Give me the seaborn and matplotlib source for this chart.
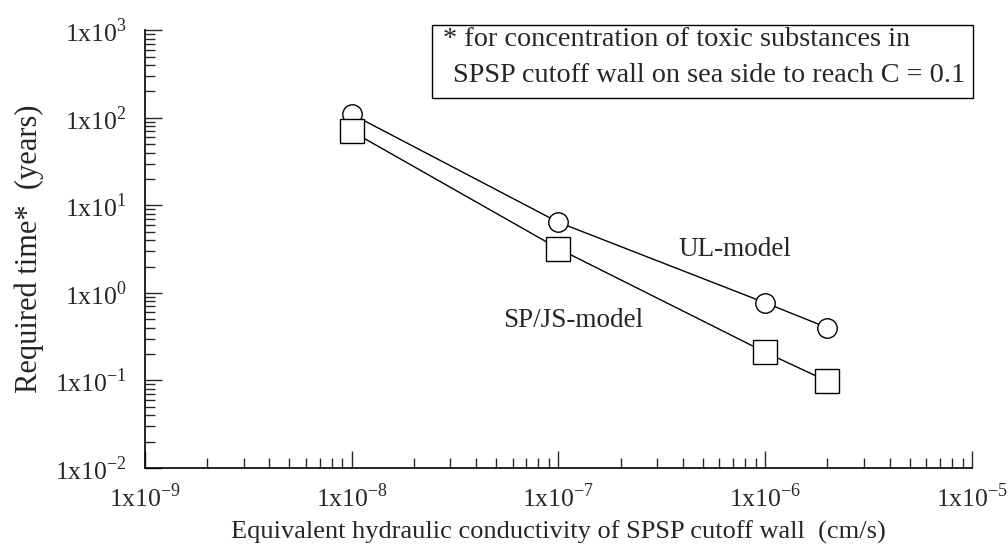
import pandas as pd
import matplotlib.pyplot as plt
import seaborn as sns
from matplotlib.patches import Rectangle
from matplotlib.ticker import LogLocator, FixedLocator, NullFormatter

# values
conductivity = [1e-8, 1e-7, 1e-6, 2e-6]
ul_time = [110, 6.4, 0.77, 0.40]
spjs_time = [70, 3.2, 0.21, 0.098]
x_ticks = [1e-9, 1e-8, 1e-7, 1e-6, 1e-5]
x_labels = ["-9", "-8", "-7", "-6", "-5"]
y_ticks = [1e-2, 1e-1, 1e0, 1e1, 1e2, 1e3]
y_labels = ["-2", "-1", "0", "1", "2", "3"]

df_ul = pd.DataFrame({"k": conductivity, "t": ul_time})
df_sp = pd.DataFrame({"k": conductivity, "t": spjs_time})

sns.set_style("ticks")
plt.rcParams["font.family"] = ["Liberation Serif", "DejaVu Serif"]
plt.rcParams["mathtext.fontset"] = "custom"
plt.rcParams["mathtext.rm"] = "Liberation Serif"

fig = plt.figure(figsize=(10.08, 5.49), dpi=100)
ax = fig.add_axes([0.1438, 0.1475, 0.8205, 0.7975])

sns.lineplot(data=df_ul, x="k", y="t", ax=ax, color="black", lw=1,
             marker="o", markersize=14, markerfacecolor="white",
             markeredgecolor="black", markeredgewidth=1)
sns.lineplot(data=df_sp, x="k", y="t", ax=ax, color="black", lw=1,
             marker="s", markersize=17.5, markerfacecolor="white",
             markeredgecolor="black", markeredgewidth=1)

ax.set_xscale("log")
ax.set_yscale("log")
ax.set_xlim(1e-9, 1e-5)
ax.set_ylim(1e-2, 1e3)

ax.xaxis.set_major_locator(FixedLocator(x_ticks))
ax.yaxis.set_major_locator(FixedLocator(y_ticks))
ax.set_xticklabels([r"1x10$^{\mathregular{%s}}$" % s for s in x_labels], fontsize=18.5)
ax.set_yticklabels([r"1x10$^{\mathregular{%s}}$" % s for s in y_labels], fontsize=18.5)
ax.xaxis.set_minor_locator(LogLocator(base=10, subs=range(2, 10), numticks=20))
ax.yaxis.set_minor_locator(LogLocator(base=10, subs=range(2, 10), numticks=20))
ax.xaxis.set_minor_formatter(NullFormatter())
ax.yaxis.set_minor_formatter(NullFormatter())
ax.tick_params(which="major", direction="in", length=12, width=1)
ax.tick_params(which="minor", direction="in", length=7, width=1)
ax.tick_params(axis="x", which="major", pad=11)
ax.tick_params(axis="y", which="major", pad=13)

sns.despine(ax=ax)
for s in ["left", "bottom"]:
    ax.spines[s].set_linewidth(1.2)
    ax.spines[s].set_color("black")

ax.set_xlabel("Equivalent hydraulic conductivity of SPSP cutoff wall  (cm/s)", fontsize=19, labelpad=6)
ax.set_ylabel("Required time*  (years)", fontsize=22, labelpad=8)

ax.text(0.713, 0.498, "UL-model", transform=ax.transAxes, fontsize=19.5, ha="center", va="center")
ax.text(0.5175, 0.338, "SP/JS-model", transform=ax.transAxes, fontsize=19.5, ha="center", va="center")

# note box
ax.add_patch(Rectangle((0.347, 0.845), 0.654, 0.166, transform=ax.transAxes,
                       fc="white", ec="black", lw=1, clip_on=False, zorder=5))
ax.text(0.360, 0.963, "* for concentration of toxic substances in", transform=ax.transAxes,
        fontsize=20.3, ha="left", va="baseline", zorder=6)
ax.text(0.372, 0.881, "SPSP cutoff wall on sea side to reach C = 0.1", transform=ax.transAxes,
        fontsize=20.3, ha="left", va="baseline", zorder=6)

fig.savefig("out.png", dpi=100)
